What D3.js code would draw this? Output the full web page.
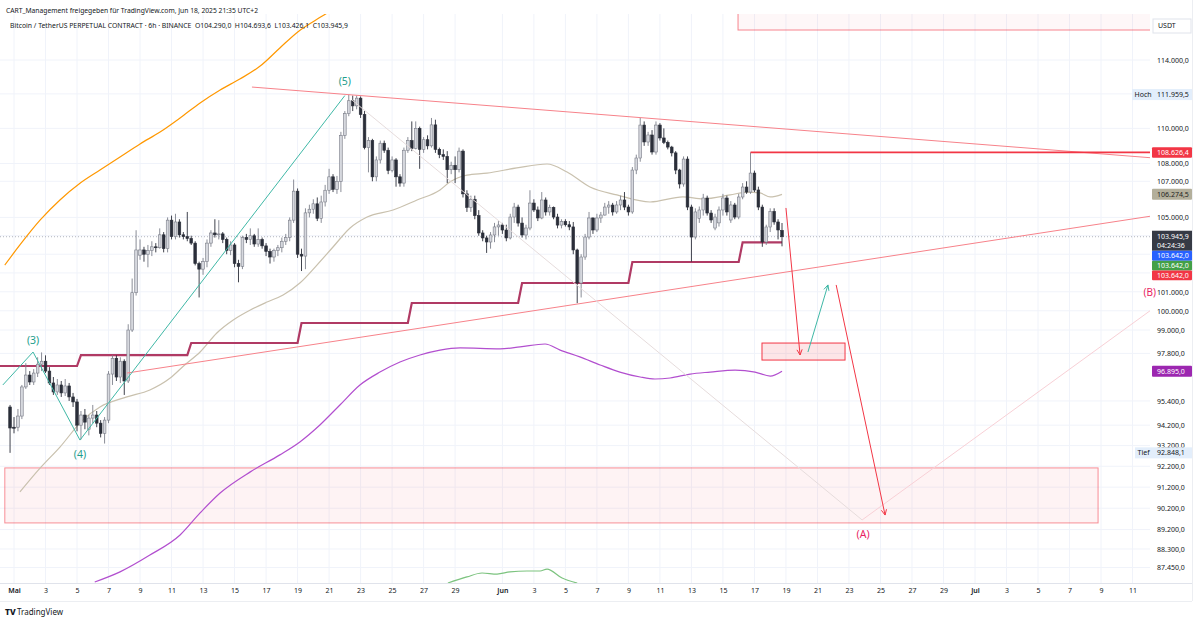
<!DOCTYPE html>
<html><head><meta charset="utf-8">
<script src="https://cdn.jsdelivr.net/npm/d3@7"></script>
<style>body{margin:0;background:#fff;overflow:hidden}text{font-family:"Noto Sans","DejaVu Sans",sans-serif}</style>
</head><body><svg id="c" width="1200" height="621"></svg>
<script>
// ---------- DATA ----------
const candleStart = "2025-04-30T18:00:00Z"; // first 6h candle
const opens = [
95100,94100,94100,94650,96100,96700,96350,96800,97250,97400,
96900,96300,95850,96200,95800,96150,95600,95350,94200,94700,
94000,94550,94700,94300,93800,94450,96750,97550,96600,97400,
96400,99000,100950,102950,103230,103000,103200,103400,103350,104050,
103300,104850,103950,104750,104050,103950,103850,103600,102500,102200,
102600,103600,104150,104050,104100,103800,103200,103500,102500,102350,
103900,103800,104000,103550,103800,103450,103150,102850,103200,103350,
103700,103900,104850,106450,103000,102900,105250,105450,105750,104950,
105850,106500,107250,106550,107000,109600,110850,111600,111300,111750,
110800,108900,109300,107250,108200,109150,108750,107600,108200,107250,
106900,108750,109300,108850,110000,108800,109350,109000,110200,108800,
108500,108400,107650,107900,107650,108700,106300,105550,106000,105100,
104150,103880,103660,104040,104480,104585,104312,103880,105020,105570,
104690,104040,104420,105790,105410,104970,105960,105300,105550,105020,
104580,104770,104600,104480,103230,101460,102850,103930,104970,104312,
104970,105130,105570,105680,105300,105684,105960,105570,105300,107630,
108310,110190,109220,109620,108650,110190,109450,109200,108930,108600,
107630,106850,108250,105570,103930,104950,105408,106070,105240,104420,
104700,105408,106070,104858,105684,105020,106126,106680,106400,107460,
106515,105570,103660,104476,105330,104750,104290];
const highs = [
95200,94600,95000,96200,97300,96900,97000,97600,97850,97700,
97100,96600,96500,96400,96500,96300,95800,95500,94900,95000,
94700,95200,94900,94450,94600,96900,97700,97700,97600,97500,
99300,101700,104300,103800,103400,103500,103700,103600,104400,104200,
105000,105100,105200,104900,104200,105300,104000,103700,102600,102800,
103800,104300,104900,104850,104200,103900,103700,103600,102700,104000,
104100,104400,104100,104400,103900,103600,103300,103300,103500,103900,
104100,105000,107100,106600,103300,105500,105700,106000,106100,106200,
106800,107700,107400,107300,109800,111000,111959.5,111900,111900,111850,
111000,109500,109400,108400,109300,109300,108900,108400,108300,107400,
108900,109500,110400,110400,110100,109500,109600,110600,110500,108900,
108800,108700,108100,108400,108900,108800,106500,106200,106200,105400,
104300,104000,104200,104700,104800,104700,104600,105200,105800,105700,
105000,104600,106500,106000,105600,106400,106100,105700,105600,105200,
104900,104900,104800,104750,103300,103000,104100,105300,105000,105200,
105300,105800,105900,105800,105900,106200,106400,105700,107800,108500,
110600,110400,109800,109900,110400,110300,110000,109300,109000,108700,
107700,108400,108400,105700,105500,105600,106300,106200,105400,105200,
105600,106300,106200,105900,105800,106300,106900,107000,108626.4,107600,
106700,105700,104600,105500,105500,104900,104693.6];
const lows = [
92848.1,93800,93900,94500,96000,96200,96200,96600,96900,96800,
96200,95700,95700,95600,95650,95400,95100,93900,93500,94000,
93700,94300,94100,93600,93300,94300,96200,96400,96300,95700,
96300,98900,100800,102700,102600,102300,102900,103100,103300,103100,
103100,103800,103800,103900,103800,103700,103500,102400,100700,101900,
102300,103400,103900,103800,103600,103000,102950,102300,101500,102200,
103600,103500,103400,103400,103300,102900,102500,102600,102900,103100,
103500,103700,104700,102800,102100,102200,105000,105200,104800,104700,
105600,106300,106400,106300,106400,109400,110700,111000,111100,110600,
108800,107500,107000,107000,108000,108600,107400,107500,106700,106700,
106700,108600,108700,108800,107700,108600,108800,108900,108600,108300,
108200,106900,107400,106900,107500,106100,105300,105300,104900,104000,
103700,103070,103300,103650,104000,104100,103700,103800,104700,104500,
103900,103800,104300,105300,104800,104900,105100,105100,104900,104400,
104400,104500,104300,103000,100400,100700,102700,103800,104100,104200,
104700,105100,105200,105100,105200,105400,105400,105100,105200,107400,
108100,109000,109000,108500,108500,109300,109100,108800,108400,107400,
106600,106700,105400,102600,103800,104700,105100,105100,104700,104300,
104500,105100,105100,104700,104900,104900,106000,106300,106300,106400,
105400,103400,103500,104200,104600,103800,103426.1];
const closes = [
94060,94050,94650,96100,96700,96350,96800,97250,97400,96900,
96300,95850,96200,95800,96150,95600,95350,94200,94700,94350,
94550,94700,94300,93800,94450,96750,97550,96600,97400,96400,
99000,100950,103230,103230,103000,103200,103400,103350,104050,103300,
104850,103950,104750,104050,103950,103850,103600,102500,102200,102600,
103600,104150,104050,104100,103800,103200,103500,102500,102350,103900,
103800,104000,103550,103800,103450,103150,102850,103200,103350,103700,
103900,104850,106450,103000,102900,105250,105450,105750,104950,105850,
106500,107250,106550,107000,109600,110850,111600,111300,111750,110800,
108900,109300,107250,108200,109150,108750,107600,108200,107250,106900,
108750,109300,108850,110000,108800,109350,109000,110200,108800,108500,
108400,107650,107900,107650,108700,106300,105550,106000,105100,104150,
103880,103660,104040,104480,104585,104312,103880,105020,105570,104690,
104040,104420,105790,105410,104970,105960,105300,105550,105020,104580,
104770,104600,104480,103230,101460,102850,103930,104970,104312,104970,
105130,105570,105680,105300,105684,105960,105570,105300,107630,108310,
110190,109220,109620,108650,110190,109450,109200,108930,108600,107630,
106850,108250,105570,103930,105300,105408,106070,105240,104858,105020,
105408,106070,105300,105684,105020,106126,106680,106400,107460,106515,
105570,103660,104476,105330,104750,104312,103945.9];

const orangeBand = [["2025-04-30T10:00",102420],["2025-05-01T09:00",103500],["2025-05-02T16:00",104860],["2025-05-03T22:00",105960],["2025-05-05T05:00",106900],["2025-05-06T11:00",107630],["2025-05-07T17:30",108370],["2025-05-09T00:00",109110],["2025-05-10T06:30",109790],["2025-05-11T13:00",110600],["2025-05-12T19:30",111470],["2025-05-14T02:00",112230],["2025-05-15T08:00",112870],["2025-05-16T15:00",113640],["2025-05-17T21:00",114720],["2025-05-19T00:45",115700],["2025-05-20T13:00",116630],["2025-05-22T00:00",117500]];
const beigeMA = [["2025-05-01T09:00",90970],["2025-05-02T16:00",92120],["2025-05-03T22:00",93130],["2025-05-05T09:00",94460],["2025-05-06T11:00",95100],["2025-05-08T04:00",95600],["2025-05-09T15:00",95950],["2025-05-10T22:00",96550],["2025-05-11T20:00",97210],["2025-05-12T19:30",97870],["2025-05-13T21:00",98850],["2025-05-14T22:00",99520],["2025-05-16T00:00",100040],["2025-05-17T01:30",100460],["2025-05-18T02:00",100830],["2025-05-19T03:30",101460],["2025-05-20T05:30",102420],["2025-05-21T06:00",103390],["2025-05-22T08:00",104420],["2025-05-23T10:00",105020],["2025-05-25T01:30",105410],["2025-05-26T14:00",105960],["2025-05-28T01:00",106520],["2025-05-28T16:00",106960],["2025-05-29T18:00",107350],["2025-05-31T00:30",107460],["2025-06-01T22:00",107750],["2025-06-03T20:00",107970],["2025-06-05T02:30",107520],["2025-06-06T13:30",106680],["2025-06-08T06:30",106240],["2025-06-10T09:00",105850],["2025-06-12T11:00",106130],["2025-06-13T18:00",106020],["2025-06-15T11:00",106240],["2025-06-16T12:30",106400],["2025-06-17T08:30",106350],["2025-06-18T00:00",106130],["2025-06-18T18:00",106274.5]];
const purpleMA = [["2025-05-06T03:00",86790],["2025-05-07T17:30",87250],["2025-05-09T15:00",88020],["2025-05-11T13:00",88950],["2025-05-12T19:30",89980],["2025-05-14T02:00",90920],["2025-05-16T00:00",91930],["2025-05-17T21:00",92750],["2025-05-19T03:30",93380],["2025-05-20T10:00",94210],["2025-05-21T16:30",95200],["2025-05-22T23:00",96200],["2025-05-24T05:30",96850],["2025-05-25T12:00",97360],["2025-05-26T18:30",97720],["2025-05-28T01:00",97970],["2025-05-29T07:30",98080],["2025-05-31T20:30",98030],["2025-06-02T03:00",98130],["2025-06-03T17:00",98280],["2025-06-04T16:00",97970],["2025-06-05T22:00",97620],["2025-06-07T05:00",97210],["2025-06-08T11:00",96850],["2025-06-09T18:00",96600],["2025-06-10T16:30",96500],["2025-06-11T15:30",96550],["2025-06-12T22:00",96750],["2025-06-14T04:30",96850],["2025-06-15T18:30",96950],["2025-06-17T01:00",96850],["2025-06-18T00:00",96650],["2025-06-18T18:00",96895]];
const greenMA = [["2025-05-28T13:00",86745],["2025-05-29T18:00",87020],["2025-05-30T17:00",87200],["2025-05-31T16:00",87150],["2025-06-01T11:30",87250],["2025-06-02T13:30",87290],["2025-06-03T09:30",87290],["2025-06-03T20:00",87380],["2025-06-04T19:00",86970],["2025-06-05T18:00",86745]];
const stepStarts = ["2025-04-29T00:00","2025-05-05T00:00","2025-05-12T00:00","2025-05-19T00:00","2025-05-26T00:00","2025-06-02T00:00","2025-06-09T00:00","2025-06-16T00:00"];
const stepValues = [97157,97716,98331,99364,100408,101463,102582,103642];

const upperTrend = [["2025-05-16T02:30",112400],["2025-07-14T12:00",108160]];
const lowerTrend = [["2025-05-08T04:00",96800],["2025-07-14T12:00",105380]];
const resistanceRay = [["2025-06-16T18:00",108626.4],["2025-07-14T12:00",108626.4]];
const topZone = [["2025-06-15T23:00",115800],["2025-07-14T12:00",121000]];
const targetZone = [["2025-04-30T10:00",89510],["2025-07-08T19:30",92120]];
const entryZone = [["2025-06-17T11:30",97460],["2025-06-22T18:00",98330]];
const waveLine = [["2025-04-30T07:00",96200],["2025-05-02T05:00",97870],["2025-05-05T04:30",93470],["2025-05-22T00:00",111900]];
const waveLabels = ["(3)","(4)","(5)"];
const projectionLine = [["2025-05-22T11:00",111640],["2025-06-23T20:00",89650]];
const abLine = [["2025-06-23T20:00",89650],["2025-07-12T19:00",100410]];
const abLabels = ["(A)","(B)"];
const arrowDown1 = [["2025-06-19T00:00",105520],["2025-06-19T21:30",97720]];
const arrowUp = [["2025-06-20T09:30",97870],["2025-06-21T16:00",101360]];
const arrowDown2 = [["2025-06-22T04:30",101360],["2025-06-25T07:00",89880]];

const priceTicks = [114000,112000,110000,108000,107000,105000,104000,103000,102000,101000,100000,99000,97800,95400,94200,93200,92200,91200,90200,89200,88300,87450];
const xTickDates = ["2025-05-01","2025-05-03","2025-05-05","2025-05-07","2025-05-09","2025-05-11","2025-05-13","2025-05-15","2025-05-17","2025-05-19","2025-05-21","2025-05-23","2025-05-25","2025-05-27","2025-05-29","2025-06-01","2025-06-03","2025-06-05","2025-06-07","2025-06-09","2025-06-11","2025-06-13","2025-06-15","2025-06-17","2025-06-19","2025-06-21","2025-06-23","2025-06-25","2025-06-27","2025-06-29","2025-07-01","2025-07-03","2025-07-05","2025-07-07","2025-07-09","2025-07-11"];
const monthNames = ["Jan","Feb","Mär","Apr","Mai","Jun","Jul","Aug","Sep","Okt","Nov","Dez"];
const highValue = 111959.5, lowValue = 92848.1;
const lastPrice = 103945.9, countdown = "04:24:36";
const stopValue = 103642.0, maValue = 106274.5, purpleValue = 96895.0, rayValue = 108626.4;
const headerLine1 = "CART_Management freigegeben für TradingView.com, Jun 18, 2025 21:35 UTC+2";
const headerLine2 = "Bitcoin / TetherUS PERPETUAL CONTRACT · 6h · BINANCE  O104.290,0  H104.693,6  L103.426,1  C103.945,9";

// ---------- SETUP ----------
const svg = d3.select("#c");
const P = {left:0, right:1150, top:14, bottom:583};
const T = s => new Date(s + (s.length <= 10 ? "T00:00Z" : "Z"));
const x = d3.scaleUtc().domain([T("2025-05-01"), T("2025-07-01")]).range([14, 975]);
const y = d3.scaleLog().domain([87450, 114000]).range([567.5, 60]);
const fmt = d3.formatLocale({decimal:",", thousands:".", grouping:[3], currency:["",""]}).format(",.1f");
const px = d => [x(T(d[0])), y(d[1])];

svg.append("rect").attr("width",1200).attr("height",621).attr("fill","#fff");
svg.append("defs").append("clipPath").attr("id","plot").append("rect")
  .attr("x",P.left).attr("y",P.top).attr("width",P.right-P.left).attr("height",P.bottom-P.top);

// grid
const grid = svg.append("g");
grid.selectAll("line.v").data(xTickDates).join("line")
  .attr("x1",d=>x(T(d))).attr("x2",d=>x(T(d))).attr("y1",P.top).attr("y2",P.bottom)
  .attr("stroke","#f0f3fa").attr("stroke-width",1);
grid.selectAll("line.h").data(priceTicks).join("line")
  .attr("x1",P.left).attr("x2",P.right).attr("y1",d=>y(d)).attr("y2",d=>y(d))
  .attr("stroke","#f0f3fa").attr("stroke-width",1);

const g = svg.append("g").attr("clip-path","url(#plot)");

function rectZone(z, fill, stroke, sw){
  const [x0,y0] = px(z[0]), [x1,y1] = px(z[1]);
  g.append("rect").attr("x",Math.min(x0,x1)).attr("y",Math.min(y0,y1))
   .attr("width",Math.abs(x1-x0)).attr("height",Math.abs(y1-y0))
   .attr("fill",fill).attr("stroke",stroke).attr("stroke-width",sw);
}
rectZone(targetZone, "rgba(242,54,69,0.06)", "rgba(242,54,69,0.55)", 1);
rectZone(topZone, "rgba(242,54,69,0.04)", "rgba(242,54,69,0.6)", 1);

const line = d3.line().x(d=>x(T(d[0]))).y(d=>y(d[1]));
const smooth = d3.line().x(d=>x(T(d[0]))).y(d=>y(d[1])).curve(d3.curveMonotoneX);
function path(data, gen, color, w){
  return g.append("path").datum(data).attr("d",gen).attr("fill","none")
    .attr("stroke",color).attr("stroke-width",w);
}
path(orangeBand, smooth, "#ff9800", 1.2);
path(beigeMA, smooth, "#c9c1ae", 1.2);
path(purpleMA, smooth, "#b24fcf", 1.2);
path(greenMA, smooth, "#7cc37f", 1.2);

// current price line
g.append("line").attr("x1",P.left).attr("x2",P.right).attr("y1",y(lastPrice)).attr("y2",y(lastPrice))
  .attr("stroke","#b2b5be").attr("stroke-width",1).attr("stroke-dasharray","1,2");

// stepped line
const H6 = 6*3600e3;
const lastCandleTime = new Date(Date.parse(candleStart) + (opens.length-1)*H6);
const stepPts = [];
stepStarts.forEach((s,k)=>{
  const t = T(s);
  if (k===0) stepPts.push([t, stepValues[0]]);
  else { stepPts.push([t, stepValues[k-1]]); stepPts.push([new Date(+t+H6), stepValues[k]]); }
});
stepPts.push([lastCandleTime, stepValues[stepValues.length-1]]);
g.append("path").datum(stepPts).attr("d", d3.line().x(d=>x(d[0])).y(d=>y(d[1])))
  .attr("fill","none").attr("stroke","#b03a64").attr("stroke-width",2.2);

// candles
const candles = opens.map((o,i)=>({t:new Date(Date.parse(candleStart)+i*H6), o, h:highs[i], l:lows[i], c:closes[i]}));
const cg = g.append("g");
cg.selectAll("line").data(candles).join("line")
  .attr("x1",d=>x(d.t)).attr("x2",d=>x(d.t)).attr("y1",d=>y(d.h)).attr("y2",d=>y(d.l))
  .attr("stroke",d=>d.c>=d.o?"#7d808b":"#2a2e39").attr("stroke-width",0.9);
cg.selectAll("rect").data(candles).join("rect")
  .attr("x",d=>x(d.t)-1.35).attr("width",2.7)
  .attr("y",d=>y(Math.max(d.o,d.c))).attr("height",d=>Math.max(0.8,Math.abs(y(d.o)-y(d.c))))
  .attr("fill",d=>d.c>=d.o?"#d6d8de":"#2a2e39")
  .attr("stroke",d=>d.c>=d.o?"#787b86":"#2a2e39").attr("stroke-width",0.6);

// drawings
path(upperTrend, line, "#f7828a", 1);
path(lowerTrend, line, "#f7828a", 1);
path(resistanceRay, line, "#f23645", 1.8);
path(projectionLine, line, "#e6dcdc", 1);
path(abLine, line, "#f8d0d6", 1);
path(waveLine, line, "#3fb8a6", 1);
rectZone(entryZone, "rgba(242,54,69,0.13)", "#f23645", 1);

function arrow(a, color){
  path(a, line, color, 1);
  const [x0,y0] = px(a[0]), [x1,y1] = px(a[1]);
  const ang = Math.atan2(y1-y0, x1-x0), L = 6, sp = 0.45;
  const p1 = [x1 - L*Math.cos(ang-sp), y1 - L*Math.sin(ang-sp)];
  const p2 = [x1 - L*Math.cos(ang+sp), y1 - L*Math.sin(ang+sp)];
  g.append("path").attr("d",`M${p1}L${x1},${y1}L${p2}`).attr("fill","none").attr("stroke",color).attr("stroke-width",1);
}
arrow(arrowDown1, "#f23645");
arrow(arrowUp, "#3fb8a6");
arrow(arrowDown2, "#f23645");

// labels
const labG = svg.append("g").attr("font-size",10.5).attr("text-anchor","middle");
[[waveLine[1], waveLabels[0], -8, 0],[waveLine[2], waveLabels[1], 18, 0],[waveLine[3], waveLabels[2], -11, 0]].forEach(([pt,t,dy,dx])=>{
  const [a,b] = px(pt);
  labG.append("text").attr("x",a+dx).attr("y",b+dy).attr("fill","#1e9e8c").text(t);
});
[[projectionLine[1], abLabels[0], 18, 1, 10.5],[abLine[1], abLabels[1], -7, -11, 10]].forEach(([pt,t,dy,dx,fs])=>{
  const [a,b] = px(pt);
  labG.append("text").attr("x",a+dx).attr("y",b+dy).attr("font-size",fs).attr("fill","#e91e63").text(t);
});

// axes frame
svg.append("line").attr("x1",0).attr("x2",1192).attr("y1",P.bottom+0.5).attr("y2",P.bottom+0.5).attr("stroke","#e0e3eb");
svg.append("line").attr("x1",0).attr("x2",1192).attr("y1",601.5).attr("y2",601.5).attr("stroke","#eceef2");
svg.append("line").attr("x1",1192.5).attr("x2",1192.5).attr("y1",0).attr("y2",601).attr("stroke","#eceef2");

const xAxis = svg.append("g").attr("transform",`translate(0,${P.bottom})`)
  .call(d3.axisBottom(x).tickValues(xTickDates.map(T)).tickSize(0).tickPadding(5.5)
    .tickFormat(d=>d.getUTCDate()===1?monthNames[d.getUTCMonth()]:d.getUTCDate()));
xAxis.select(".domain").remove();
xAxis.selectAll("text").attr("font-size",7).attr("fill","#131722")
  .attr("font-weight",d=>d.getUTCDate()===1?600:400).attr("font-family","Noto Sans");

const yAxis = svg.append("g").attr("transform",`translate(${P.right},0)`)
  .call(d3.axisRight(y).tickValues(priceTicks).tickSize(0).tickPadding(7).tickFormat(fmt));
yAxis.select(".domain").remove();
yAxis.selectAll("text").attr("font-size",7).attr("fill","#131722").attr("font-family","Noto Sans");

// price labels on scale
const pl = svg.append("g").attr("font-size",7);
function priceLabel(yc, h, bg, fg, txt){
  pl.append("rect").attr("x",1152).attr("y",yc-h/2).attr("width",40).attr("height",h).attr("fill",bg).attr("rx",1);
  pl.append("text").attr("x",1157).attr("y",yc).attr("dy","0.35em").attr("fill",fg).text(txt);
}
[[highValue,"Hoch",1132],[lowValue,"Tief",1135]].forEach(([v,t,x0])=>{
  const yc = y(v);
  pl.append("rect").attr("x",x0).attr("y",yc-5.5).attr("width",1192-x0).attr("height",11).attr("fill","#e3eefb");
  pl.append("text").attr("x",x0+2.5).attr("y",yc).attr("dy","0.35em").attr("fill","#131722").text(t);
  pl.append("text").attr("x",1157).attr("y",yc).attr("dy","0.35em").attr("fill","#131722").text(fmt(v));
});
priceLabel(y(rayValue), 10.5, "#f23645", "#fff", fmt(rayValue));
priceLabel(y(maValue), 11, "#b3af9b", "#222", fmt(maValue));
priceLabel(y(purpleValue), 11, "#9c27b0", "#fff", fmt(purpleValue));
const ly = y(lastPrice);
pl.append("rect").attr("x",1152).attr("y",ly-6).attr("width",40).attr("height",20).attr("fill","#363a45");
pl.append("text").attr("x",1157).attr("y",ly).attr("dy","0.35em").attr("fill","#fff").text(fmt(lastPrice));
pl.append("text").attr("x",1157).attr("y",ly+9).attr("dy","0.35em").attr("fill","#fff").text(countdown);
["#2962ff","#43a047","#f23645"].forEach((c,k)=>{
  priceLabel(ly+14+5+k*9.8, 9.8, c, "#fff", fmt(stopValue));
});
pl.append("rect").attr("x",1153).attr("y",19).attr("width",38).attr("height",14).attr("fill","#fff").attr("stroke","#e0e3eb");
pl.append("text").attr("x",1158).attr("y",26).attr("dy","0.35em").attr("fill","#131722").text("USDT");

// header
svg.append("text").attr("x",6).attr("y",12.5).attr("font-size",7.3).attr("fill","#131722")
  .attr("textLength",252).attr("lengthAdjust","spacingAndGlyphs").text(headerLine1);
svg.append("text").attr("x",10).attr("y",27.5).attr("font-size",7.3).attr("fill","#131722")
  .attr("textLength",338).attr("lengthAdjust","spacingAndGlyphs").attr("xml:space","preserve").text(headerLine2);

// footer logo
svg.append("text").attr("x",5).attr("y",615).attr("font-size",8.5).attr("font-weight",800).attr("fill","#131722").text("TV");
svg.append("text").attr("x",17).attr("y",615).attr("font-size",8).attr("fill","#131722").text("TradingView");
</script></body></html>
